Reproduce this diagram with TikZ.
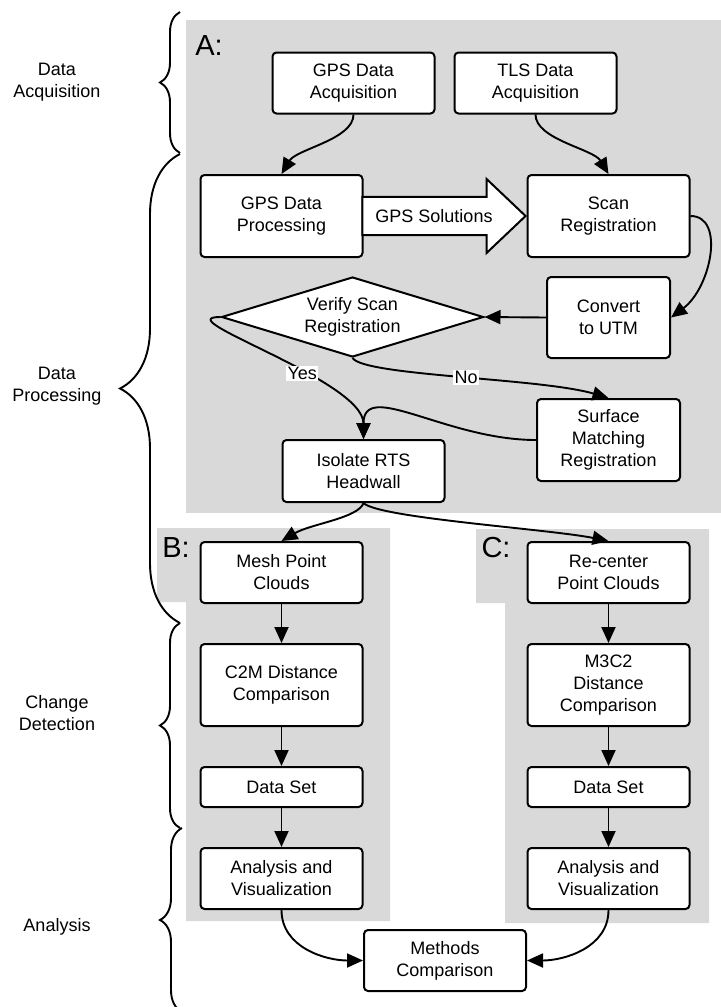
\documentclass[tikz,border=0pt]{standalone}
\usepackage{fontspec}
\setmainfont{Liberation Sans}
\usetikzlibrary{arrows.meta,positioning,shapes.geometric,shapes.arrows,decorations.pathreplacing}
\definecolor{panelgray}{RGB}{217,217,217}

\begin{document}
\begin{tikzpicture}[
  x=0.5pt,y=-0.5pt,
  node distance=19.5pt,
  font=\fontsize{9}{11}\selectfont,
  box/.style={rectangle,draw,fill=white,rounded corners=2pt,line width=1pt,align=center,minimum width=81pt,minimum height=30.5pt,inner sep=2pt},
  tallbox/.style={box,minimum height=41pt},
  decision/.style={diamond,draw,fill=white,line width=1pt,aspect=3.2,inner sep=0pt,align=center,minimum width=131pt,minimum height=40pt},
  solution/.style={single arrow,draw,fill=white,line width=1pt,minimum height=81pt,single arrow head extend=9pt,single arrow tip angle=87,inner xsep=6pt,inner ysep=5.7pt},
  arrow/.style={-{Triangle[length=8pt,width=7pt]},line width=0.95pt},
  answer/.style={fill=white,inner sep=0.6pt},
  panel/.style={fill=panelgray},
  tag/.style={font=\fontsize{14.5}{17}\selectfont},
  stage/.style={align=center},
  bracket/.style={decorate,decoration={brace,amplitude=#1},line width=0.95pt}
]
\useasboundingbox (0,0) rectangle (721,1007);

\fill[panel] (186,20) rectangle (721,513);
\fill[panel] (157,528) -- (390,528) -- (390,921) -- (186,921) -- (186,602) -- (157,602) -- cycle;
\fill[panel] (476,529) -- (709,529) -- (709,923) -- (505,923) -- (505,603) -- (476,603) -- cycle;

\node[tag] (taga) at (209,46) {A:};
\node[tag] (tagb) at (176,548) {B:};
\node[tag] (tagc) at (496,548) {C:};

\node[box] (acqgps) at (353.5,83) {GPS Data\\Acquisition};
\node[box] (acqtls) at (535.5,83) {TLS Data\\Acquisition};
\node[tallbox] (procgps) at (281.5,216) {GPS Data\\Processing};
\node[tallbox] (scanreg) at (608.5,216) {Scan\\Registration};
\node[solution] (gpssol) at (434,216) {GPS Solutions};
\node[decision] (verify) at (352.5,317) {Verify Scan\\Registration};
\node[box,minimum width=61.5pt,minimum height=40.5pt] (convert) at (608.5,317.5) {Convert\\to UTM};
\node[box,minimum width=71.5pt,minimum height=41pt] (surface) at (608.5,440) {Surface\\Matching\\Registration};
\node[box,minimum height=31pt] (isolate) at (363.5,471) {Isolate RTS\\Headwall};

\node[box] (mesh) at (281.5,572.5) {Mesh Point\\Clouds};
\node[tallbox,below=of mesh] (c2m) {C2M Distance\\Comparison};
\node[box,minimum height=20pt,below=of c2m] (setb) {Data Set};
\node[box,below=of setb] (analysisb) {Analysis and\\Visualization};

\node[box] (recenter) at (608.5,572.5) {Re-center\\Point Clouds};
\node[tallbox,below=of recenter] (m3c2) {M3C2\\Distance\\Comparison};
\node[box,minimum height=20pt,below=of m3c2] (setc) {Data Set};
\node[box,below=of setc] (analysisc) {Analysis and\\Visualization};

\node[box] (methods) at (445,960.5) {Methods\\Comparison};

\node[stage] (dacq) at (57,82) {Data\\Acquisition};
\node[stage] (dproc) at (57,386) {Data\\Processing};
\node[stage] (chdet) at (57,713) {Change\\Detection};
\node[stage] (anal) at (57,927) {Analysis};

\draw[bracket=10pt] (180,153) -- (180,12);
\draw[bracket=30pt] (180,623) -- (180,154);
\draw[bracket=10pt] (180,828) -- (180,623);
\draw[bracket=11pt] (182,1012) -- (182,828);

\draw[arrow] (acqgps.south) .. controls +(0,25) and +(15,-25) .. (procgps.north);
\draw[arrow] (acqtls.south) .. controls +(0,25) and +(-15,-25) .. (scanreg.north);
\draw[arrow] (scanreg.east) .. controls +(35,0) and +(40,-30) .. (convert.east);
\draw[arrow] (convert.west) -- (verify.east);
\draw[arrow] (verify.west) .. controls +(-56,0) and +(0,-59) .. (isolate.north) node[answer,pos=0.62] {Yes};
\draw[arrow] (verify.south) .. controls +(12,18) and +(-68,-20) .. (surface.north) node[answer,pos=0.52] {No};
\draw[arrow] (surface.west) .. controls +(-90,0) and +(0,-60) .. (isolate.north);
\draw[arrow] (isolate.south) .. controls +(-5,15) and +(29,-17) .. (mesh.north);
\draw[arrow] (isolate.south) .. controls +(15,15) and +(-60,-12) .. (recenter.north);
\draw[arrow] (mesh) -- (c2m);
\draw[arrow] (c2m) -- (setb);
\draw[arrow] (setb) -- (analysisb);
\draw[arrow] (recenter) -- (m3c2);
\draw[arrow] (m3c2) -- (setc);
\draw[arrow] (setc) -- (analysisc);
\draw[arrow] (analysisb.south) to[out=-90,in=180] (methods.west);
\draw[arrow] (analysisc.south) to[out=-90,in=0] (methods.east);
\end{tikzpicture}
\end{document}
